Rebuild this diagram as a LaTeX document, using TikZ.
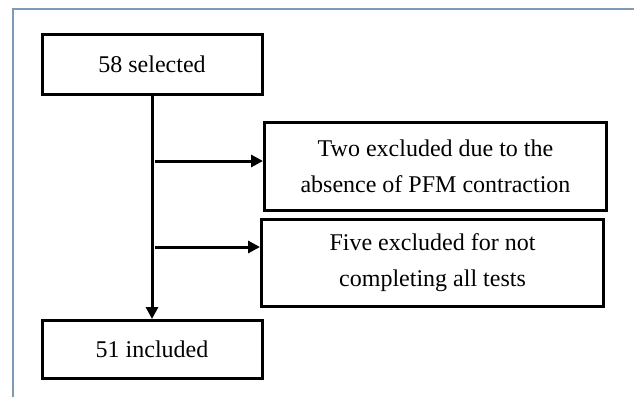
\documentclass[tikz,border=0pt]{standalone}
\usepackage{fontspec}
\setmainfont{Liberation Serif}
\usepackage{xcolor}
\usetikzlibrary{arrows.meta,positioning}
\definecolor{framecol}{RGB}{125,155,185}

\begin{document}
\begin{tikzpicture}[
		> = {Triangle[length=12pt,width=12pt]}, % arrow head style
		x = 1pt, y = -1pt, % one unit per pixel, y downwards
		line width = 3pt % line style
	]
	
	\tikzstyle{every node}=[font = \fontsize{24}{36}\selectfont]
	\tikzstyle{box}=[
	draw = black,
	fill = white,
	align = center,
	inner sep = 0pt
	]
	
	\useasboundingbox (0,0) rectangle (634,397);
	\draw[line width = 1.3pt, draw = framecol] (13,397) -- (13,9) -- (634,9);
	
	\node[box, minimum width = 220pt, minimum height = 60pt] (sel) at (152,64.5) {58 selected};
	\node[box, minimum width = 342pt, minimum height = 88pt] (exa) at (435.5,166.5) {Two excluded due to the\\absence of PFM contraction};
	\node[box, minimum width = 342pt, minimum height = 87pt] (exb) at (432.5,263) {Five excluded for not\\completing all tests};
	\node[box, minimum width = 220pt, minimum height = 58pt] (inc) at (152,349.5) {51 included};
	
	\coordinate (ta) at (155,161);
	\coordinate (tb) at (155,247);
	
	\draw[->] (sel) -- (inc);
	\draw[->] (ta) -- (exa.west |- ta);
	\draw[->] (tb) -- (exb.west |- tb);
\end{tikzpicture}
\end{document}
